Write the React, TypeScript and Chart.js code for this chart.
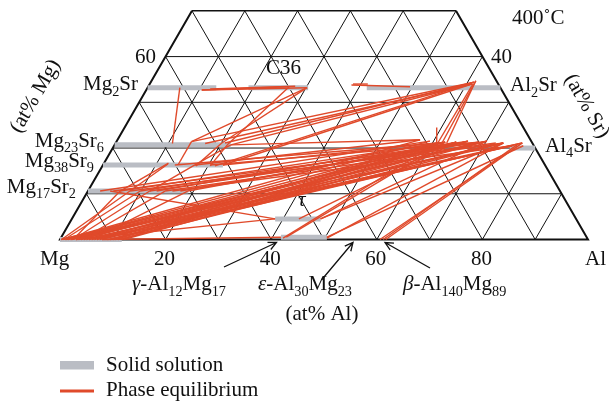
import React, { useEffect, useRef } from "react";
import { Chart, registerables } from "chart.js";
Chart.register(...registerables);

// ---------- data (compositions in at%) ----------
const GRID_STEPS = [10, 20, 30, 40, 50, 60, 70, 80, 90];
const SR_LIMIT = 50;
const AL_TICKS = [20, 40, 60, 80];

// solid solution ranges (gray bars), constant Sr, Al from..to
const solidPhases = ["Mg", "Mg17Sr2", "Mg38Sr9", "Mg23Sr6", "Mg2Sr", "C36", "Al2Sr", "Al4Sr", "tau", "gamma"];
const solidSr = [0, 10.6, 16.3, 20.7, 33.2, 33.2, 33.2, 20.0, 4.5, 0.5];
const solidAlFrom = [0, 0, 0, 0, 0, 19.1, 41.5, 75.2, 38.5, 41.6];
const solidAlTo = [11.7, 19.0, 22.7, 22.0, 13.0, 30.4, 66.8, 80.0, 47.1, 50.3];

// phase equilibrium tie lines (red)
const tieFromAl = [
  6.1, 10.5, 10.5, 12.0, 30.2, 14.2, 30.2, 26.7, 20.1, 21.4,
  20.7, 22.0, 22.7, 21.3, 14.2, 17.0,
  61.4, 61.4, 61.2, 59.1, 38.3, 38.5,
  0.5, 1, 1.5, 2, 3, 3.5, 4, 5, 5.5, 6, 7, 8, 9, 10, 11, 12,
  2.5, 0.3, 0.8, 4, 6, 2.5,
  2.3, 6.1, 9.9, 11.7, 14.6, 18.9, 16.0,
  13.6, 17.4, 20.3, 22.7,
  22.0,
  6.1, 11.7, 17.4,
  42.1, 42.6, 50.4, 60.6, 61.2, 61.7, 47.1, 4.2, 50.3, 43.0, 47.1,
  0.2, 1.2, 2.2, 4.5, 6.5, 7.5, 9.5, 10.5, 11.5, 3.0, 8.0,
  4.8, 8.0, 13.0, 17.5,
];
const tieFromSr = [
  33.2, 32.7, 32.7, 32.9, 33.2, 21.4, 33.2, 33.4, 21.1, 20.9,
  21.1, 20.7, 16.3, 16.1, 21.4, 21.0,
  34.7, 34.7, 34.0, 24.5, 33.8, 34.0,
  0, 0, 0, 0, 0, 0, 0, 0, 0, 0, 0, 0, 0, 0, 0, 0,
  0, 0, 0, 0, 0, 0,
  10.6, 10.6, 10.6, 10.6, 10.6, 10.6, 10.6,
  16.3, 16.3, 16.3, 16.3,
  20.7,
  10.6, 10.6, 16.3,
  0.3, 0.5, 0.3, 0, 0, 0, 4.5, 10.6, 0.5, 4.5, 4.5,
  0, 0, 0, 0, 0, 0, 0, 0, 0, 0, 0,
  10.6, 10.6, 10.6, 10.6,
];
const tieToAl = [
  10.8, 26.3, 30.2, 27.8, 14.2, 14.2, 20.1, 21.4, 17.7, 20.4,
  61.2, 61.0, 61.0, 61.2, 61.2, 61.0,
  61.8, 62.7, 61.0, 60.8, 49.6, 41.3,
  57.3, 59.3, 61.0, 64.4, 66.5, 70.1, 62.3, 73.4, 68.6, 75.4, 71.9, 64.4, 77.0, 66.5, 73.4, 70.1,
  6.1, 12.2, 9.9, 14.6, 18.9, 11.7,
  59.3, 62.3, 66.5, 70.1, 73.4, 64.4, 75.4,
  61.0, 57.3, 68.6, 62.3,
  57.3,
  12.2, 17.4, 22.0,
  61.0, 62.3, 73.4, 77.0, 76.2, 77.0, 70.1, 38.5, 77.5, 64.4, 73.4,
  66.5, 73.4, 70.1, 77.0, 61.0, 75.4, 68.6, 62.3, 64.4, 38.5, 41.6,
  68.6, 72.0, 61.8, 66.6,
];
const tieToSr = [
  21.0, 33.4, 33.2, 33.5, 21.4, 16.4, 21.1, 20.9, 16.1, 16.1,
  34.4, 34.0, 34.0, 34.4, 34.4, 34.0,
  21.0, 21.1, 21.1, 21.1, 33.4, 34.0,
  21.8, 21.5, 21.1, 21.3, 21.5, 21.5, 21.3, 21.1, 21.3, 20.5, 20.9, 21.3, 21.1, 21.5, 21.1, 21.5,
  10.6, 16.5, 10.6, 10.6, 10.6, 10.6,
  21.5, 21.3, 21.5, 21.5, 21.1, 21.3, 20.5,
  21.1, 21.8, 21.3, 21.3,
  21.8,
  16.7, 16.3, 20.7,
  21.1, 21.3, 21.1, 21.1, 20.7, 21.1, 21.5, 4.5, 20.5, 21.3, 21.1,
  21.5, 21.1, 21.5, 21.1, 21.1, 20.5, 21.3, 21.3, 21.3, 4.5, 0.5,
  21.3, 21.1, 21.2, 21.4,
];

// ---------- styling ----------
const RED = "#e04a2b";
const GRAY = "#babdc4";
const FONT = "'Liberation Serif', 'DejaVu Serif', serif";
const FS = 21;

const SQ = Math.sqrt(3) / 2;
const toXY = (al: number, sr: number) => ({ x: al + sr / 2, y: sr * SQ });

type Part = [string, string?];

function drawRich(ctx: CanvasRenderingContext2D, parts: Part[], x: number, y: number, align: string, size: number) {
  const fontFor = (k?: string) => {
    const s = k === "sub" ? size * 0.68 : size;
    const style = k === "it" ? "italic " : "";
    return `${style}${s}px ${FONT}`;
  };
  let total = 0;
  const widths = parts.map((p) => {
    ctx.font = fontFor(p[1]);
    const w = ctx.measureText(p[0]).width;
    total += w;
    return w;
  });
  let cx = align === "right" ? x - total : align === "center" ? x - total / 2 : x;
  ctx.textBaseline = "alphabetic";
  ctx.textAlign = "left";
  parts.forEach((p, i) => {
    ctx.font = fontFor(p[1]);
    const dy = p[1] === "sub" ? size * 0.28 : 0;
    ctx.fillText(p[0], cx, y + dy);
    cx += widths[i];
  });
}

function arrow(ctx: CanvasRenderingContext2D, x1: number, y1: number, x2: number, y2: number) {
  ctx.beginPath();
  ctx.moveTo(x1, y1);
  ctx.lineTo(x2, y2);
  const a = Math.atan2(y2 - y1, x2 - x1);
  const L = 9;
  const s = 0.45;
  ctx.moveTo(x2 - L * Math.cos(a - s), y2 - L * Math.sin(a - s));
  ctx.lineTo(x2, y2);
  ctx.lineTo(x2 - L * Math.cos(a + s), y2 - L * Math.sin(a + s));
  ctx.stroke();
}

const textPlugin = {
  id: "ternaryText",
  afterDraw(chart: any) {
    const ctx: CanvasRenderingContext2D = chart.ctx;
    const xs = chart.scales.x;
    const ys = chart.scales.y;
    ctx.save();
    ctx.fillStyle = "#111";
    const baseY = ys.getPixelForValue(0);

    // base tick labels
    drawRich(ctx, [["Mg"]], 40, baseY + 25.5, "left", FS);
    AL_TICKS.forEach((t) => {
      drawRich(ctx, [[String(t)]], xs.getPixelForValue(t) - 1, baseY + 25.5, "center", FS);
    });
    drawRich(ctx, [["Al"]], 585, baseY + 25.5, "left", FS);

    // side tick labels
    drawRich(ctx, [["60"]], 156, 63, "right", FS);
    drawRich(ctx, [["40"]], 491, 63, "left", FS);

    drawRich(ctx, [["400˚C"]], 512, 24, "left", FS);

    // phase labels
    drawRich(ctx, [["Mg"], ["2", "sub"], ["Sr"]], 138, 90, "right", FS);
    drawRich(ctx, [["C36"]], 266, 74, "left", FS);
    drawRich(ctx, [["Al"], ["2", "sub"], ["Sr"]], 510, 91, "left", FS);
    drawRich(ctx, [["Al"], ["4", "sub"], ["Sr"]], 545, 151.5, "left", FS);
    drawRich(ctx, [["Mg"], ["23", "sub"], ["Sr"], ["6", "sub"]], 104, 146.5, "right", FS);
    drawRich(ctx, [["Mg"], ["38", "sub"], ["Sr"], ["9", "sub"]], 94, 166.5, "right", FS);
    drawRich(ctx, [["Mg"], ["17", "sub"], ["Sr"], ["2", "sub"]], 76, 192.5, "right", FS);
    drawRich(ctx, [["τ", "it"]], 298, 206, "left", 21);

    drawRich(ctx, [["γ", "it"], ["-Al"], ["12", "sub"], ["Mg"], ["17", "sub"]], 132, 290, "left", FS);
    drawRich(ctx, [["ε", "it"], ["-Al"], ["30", "sub"], ["Mg"], ["23", "sub"]], 258, 290, "left", FS);
    drawRich(ctx, [["β", "it"], ["-Al"], ["140", "sub"], ["Mg"], ["89", "sub"]], 403, 290, "left", FS);

    drawRich(ctx, [["(at% Al)"]], 322, 320, "center", FS);

    // rotated axis titles
    ctx.save();
    ctx.translate(35, 96);
    ctx.rotate(-Math.PI / 3);
    drawRich(ctx, [["(at% Mg)"]], 0, 6, "center", FS);
    ctx.restore();
    ctx.save();
    ctx.translate(587, 106);
    ctx.rotate(Math.PI / 3);
    drawRich(ctx, [["(at% Sr)"]], 0, 6, "center", FS);
    ctx.restore();

    // arrows
    ctx.strokeStyle = "#111";
    ctx.lineWidth = 1.3;
    arrow(ctx, 224, 267, 276.5, 242.5);
    arrow(ctx, 321.5, 280, 353, 242.5);
    arrow(ctx, 430, 268, 385, 242.5);

    // legend
    ctx.fillStyle = GRAY;
    ctx.fillRect(60, 361, 34, 8.5);
    ctx.strokeStyle = RED;
    ctx.lineWidth = 3;
    ctx.beginPath();
    ctx.moveTo(60, 391);
    ctx.lineTo(94, 391);
    ctx.stroke();
    ctx.fillStyle = "#111";
    drawRich(ctx, [["Solid solution"]], 106, 371, "left", FS);
    drawRich(ctx, [["Phase equilibrium"]], 106, 396, "left", FS);
    ctx.restore();
  },
};

function buildDatasets() {
  const ds: any[] = [];
  const line = (pts: { x: number; y: number }[], color: string, width: number, order: number) => ({
    data: pts,
    showLine: true,
    borderColor: color,
    backgroundColor: color,
    borderWidth: width,
    pointRadius: 0,
    pointHoverRadius: 0,
    fill: false,
    tension: 0,
    order,
  });
  // grid
  GRID_STEPS.forEach((s) => {
    if (s < SR_LIMIT) ds.push(line([toXY(0, s), toXY(100 - s, s)], "#111", 1, 4));
  });
  GRID_STEPS.forEach((a) => {
    const top = Math.min(SR_LIMIT, 100 - a);
    ds.push(line([toXY(a, 0), toXY(a, top)], "#111", 1, 4));
  });
  GRID_STEPS.forEach((m) => {
    const top = Math.min(SR_LIMIT, 100 - m);
    ds.push(line([toXY(100 - m, 0), toXY(100 - m - top, top)], "#111", 1, 4));
  });
  // outline
  ds.push(line([toXY(0, SR_LIMIT), toXY(0, 0), toXY(100, 0), toXY(100 - SR_LIMIT, SR_LIMIT)], "#111", 2, 3));
  ds.push(line([toXY(0, SR_LIMIT), toXY(100 - SR_LIMIT, SR_LIMIT)], "#111", 1.5, 3));
  // solid solutions
  solidPhases.forEach((_, i) => {
    ds.push(line([toXY(solidAlFrom[i], solidSr[i]), toXY(solidAlTo[i], solidSr[i])], GRAY, 5, 2));
  });
  // tie lines
  tieFromAl.forEach((_, i) => {
    ds.push(line([toXY(tieFromAl[i], tieFromSr[i]), toXY(tieToAl[i], tieToSr[i])], RED, 1.4, 1));
  });
  return ds;
}

export default function App() {
  const ref = useRef<HTMLCanvasElement | null>(null);
  useEffect(() => {
    if (!ref.current) return;
    const chart = new Chart(ref.current, {
      type: "scatter",
      data: { datasets: buildDatasets() },
      options: {
        responsive: false,
        maintainAspectRatio: false,
        animation: false,
        events: [],
        layout: { padding: 0 },
        plugins: { legend: { display: false }, tooltip: { enabled: false } },
        scales: {
          x: { type: "linear", min: -11.36, max: 103.98, display: false },
          y: { type: "linear", min: -30.78, max: 45.36, display: false },
        },
      },
      plugins: [textPlugin],
    } as any);
    return () => chart.destroy();
  }, []);
  return (
    <div style={{ position: "absolute", left: 0, top: 0, width: 609, height: 402, background: "#fff" }}>
      <canvas ref={ref} width={609} height={402} style={{ display: "block" }} />
    </div>
  );
}
